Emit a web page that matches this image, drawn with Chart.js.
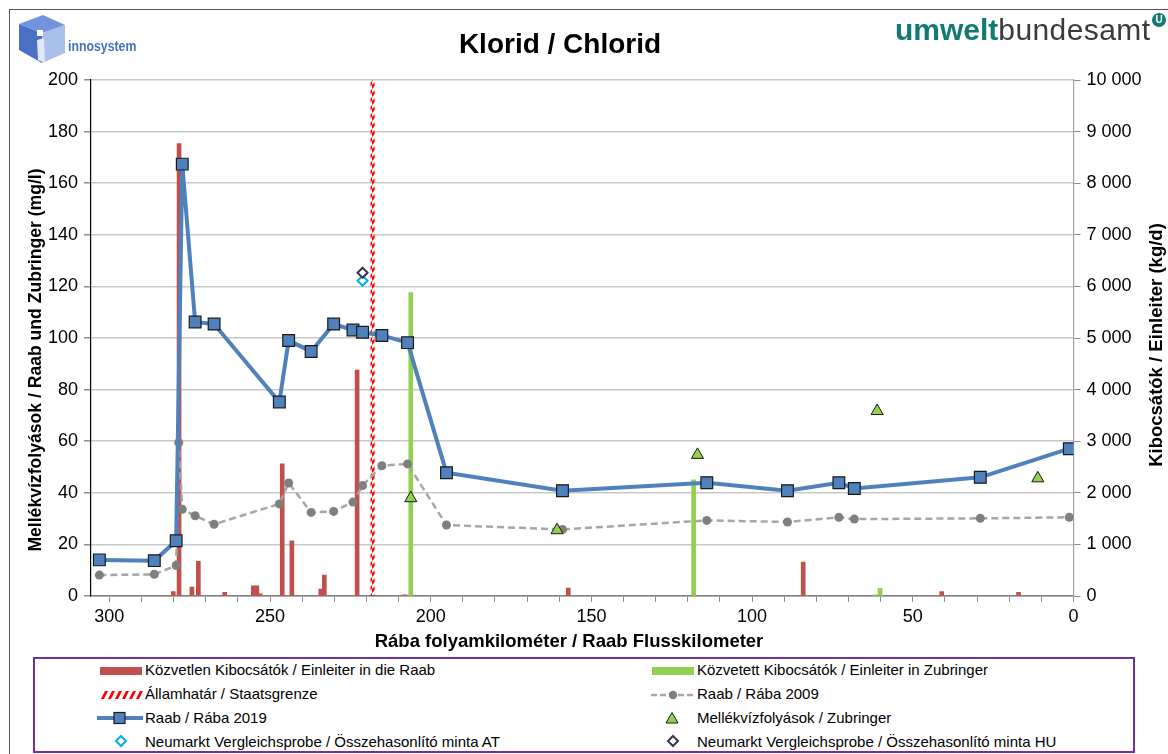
<!DOCTYPE html>
<html><head><meta charset="utf-8">
<script src="https://cdn.jsdelivr.net/npm/chart.js@4.4.1/dist/chart.umd.min.js"></script>
<style>
html,body{margin:0;padding:0;background:#fff;width:1168px;height:754px;overflow:hidden;font-family:"Liberation Sans",Arial,sans-serif;}
#frame{position:absolute;left:9px;top:9px;width:1300px;height:900px;border:1.5px solid #555;box-sizing:border-box;}
#cv{position:absolute;left:0;top:0;}
#title{position:absolute;left:0;width:1120px;top:28px;text-align:center;font-weight:bold;font-size:28px;line-height:32px;color:#000;}
#inno{position:absolute;left:17px;top:13px;}
#innotxt{position:absolute;left:68px;top:37px;font-weight:bold;font-size:15px;color:#4472c4;transform:scaleX(0.82);transform-origin:left top;white-space:nowrap;}
#uba{position:absolute;left:895px;top:12px;font-size:30px;line-height:36px;white-space:nowrap;}
#uba .a{color:#127a72;font-weight:bold;}
#uba .b{color:#3a3a3a;letter-spacing:0.4px;}
#ubaU{position:absolute;left:1152px;top:13px;width:14px;height:14px;border-radius:50%;background:#127a72;color:#fff;font-size:10px;font-weight:bold;line-height:14px;text-align:center;}
#legend{position:absolute;left:33px;top:657px;width:1102px;height:96px;border:2px solid #7030a0;box-sizing:border-box;}
.li{position:absolute;font-size:15px;line-height:18px;color:#000;white-space:nowrap;}
.sym{position:absolute;}
</style>
</head><body>
<div id="frame"></div>
<canvas id="cv" width="1168" height="656"></canvas>
<div id="title">Klorid / Chlorid</div>
<svg id="inno" width="50" height="52" viewBox="0 0 50 52">
  <polygon points="2,11 25,20 25,50 2,37" fill="#4a70c6"/>
  <polygon points="25,20 48,12 48,40 25,50" fill="#a9c1ea"/>
  <polygon points="2,11 26,2 48,12 25,20" fill="#7393dc"/>
  <rect x="20" y="17" width="6" height="6" fill="#ffffff"/>
  <polygon points="20,27 27,25 28,50 21,47" fill="#dfe8f8"/>
</svg>
<div id="innotxt">innosystem</div>
<div id="uba"><span class="a">umwelt</span><span class="b">bundesamt</span></div>
<div id="ubaU">U</div>

<div id="legend">
  <svg class="sym" style="left:64px;top:6px" width="44" height="12"><rect x="1" y="2" width="42" height="8" fill="#c0504d"/></svg>
  <div class="li" style="left:110px;top:2px">Közvetlen Kibocsátók / Einleiter in die Raab</div>
  <svg class="sym" style="left:64px;top:30px" width="44" height="12">
    <g fill="#ff0000"><polygon points="2,10 6,2 9,2 5,10"/><polygon points="9,10 13,2 16,2 12,10"/><polygon points="16,10 20,2 23,2 19,10"/><polygon points="23,10 27,2 30,2 26,10"/><polygon points="30,10 34,2 37,2 33,10"/><polygon points="37,10 41,2 44,2 40,10"/></g>
  </svg>
  <div class="li" style="left:110px;top:26px">Államhatár / Staatsgrenze</div>
  <svg class="sym" style="left:62px;top:51px" width="48" height="16"><line x1="0" y1="8" x2="46" y2="8" stroke="#4f81bd" stroke-width="4"/><rect x="17" y="2.5" width="11" height="11" fill="#4f81bd" stroke="#1f1f1f" stroke-width="1.2"/></svg>
  <div class="li" style="left:110px;top:50px">Raab / Rába 2019</div>
  <svg class="sym" style="left:79px;top:75px" width="14" height="14"><polygon points="7,2 12,7 7,12 2,7" fill="#fff" stroke="#00b0f0" stroke-width="2"/></svg>
  <div class="li" style="left:110px;top:74px">Neumarkt Vergleichsprobe / Összehasonlító minta AT</div>

  <svg class="sym" style="left:616px;top:6px" width="44" height="12"><rect x="1" y="2" width="42" height="8" fill="#92d050"/></svg>
  <div class="li" style="left:662px;top:2px">Közvetett Kibocsátók / Einleiter in Zubringer</div>
  <svg class="sym" style="left:616px;top:29px" width="46" height="14"><line x1="0" y1="7" x2="44" y2="7" stroke="#a6a6a6" stroke-width="2.5" stroke-dasharray="6,3"/><circle cx="22" cy="7" r="4.2" fill="#7f7f7f"/></svg>
  <div class="li" style="left:662px;top:26px">Raab / Rába 2009</div>
  <svg class="sym" style="left:629px;top:51px" width="16" height="16"><polygon points="8,2.5 14,13 2,13" fill="#92d050" stroke="#1f1f1f" stroke-width="1"/></svg>
  <div class="li" style="left:662px;top:50px">Mellékvízfolyások / Zubringer</div>
  <svg class="sym" style="left:631px;top:75px" width="14" height="14"><polygon points="7,2 12,7 7,12 2,7" fill="#fff" stroke="#403152" stroke-width="2"/></svg>
  <div class="li" style="left:662px;top:74px">Neumarkt Vergleichsprobe / Összehasonlító minta HU</div>
</div>

<script>
// ---- data (river km, values) ----
const km2019 = [303.1, 286.0, 279.2, 277.3, 273.3, 267.4, 247.1, 244.2, 237.2, 230.2, 224.2, 221.2, 215.2, 207.2, 195.1, 159.0, 114.1, 89.0, 73.0, 68.2, 29.0, 1.3];
const raab2019 = [14.0, 13.7, 21.4, 167.4, 106.2, 105.4, 75.2, 99.0, 94.8, 105.4, 103.1, 102.2, 101.0, 98.2, 47.8, 40.8, 43.9, 40.8, 43.9, 41.7, 46.0, 57.1];

const km2009 = [303.1, 286.0, 279.2, 278.4, 277.3, 273.3, 267.4, 247.1, 244.2, 237.2, 230.2, 224.2, 221.2, 215.2, 207.2, 195.1, 159.0, 114.1, 89.0, 73.0, 68.2, 29.0, 1.3];
const raab2009 = [8.1, 8.4, 11.8, 59.4, 33.6, 31.1, 27.8, 35.7, 43.8, 32.4, 32.8, 36.4, 42.8, 50.5, 51.2, 27.5, 25.8, 29.3, 28.7, 30.5, 29.8, 30.1, 30.5];

const tribKm = [206.2, 160.7, 117.0, 61.1, 11.1];
const tribVal = [37.9, 25.5, 54.7, 71.7, 45.6];

const directKm = [280.1, 278.3, 274.3, 272.3, 264.1, 255.2, 254.1, 253.1, 246.2, 243.2, 234.2, 233.1, 222.9, 208.1, 157.2, 84.1, 41.0, 17.1];
const directLoad = [85, 8770, 175, 670, 70, 195, 195, 40, 2560, 1070, 135, 405, 4380, 25, 155, 655, 85, 70];

const indirectKm = [206.2, 118.2, 61.8, 60.2];
const indirectLoad = [5880, 2250, 25, 150];

const atKm = [221.2], atVal = [122.2];
const huKm = [221.2], huVal = [125.3];
const borderKm = 218.1;

const xLabels = [0, 50, 100, 150, 200, 250, 300];
const leftTicks = [0, 20, 40, 60, 80, 100, 120, 140, 160, 180, 200];

const titleX = 'Rába folyamkilométer / Raab Flusskilometer';
const titleY = 'Mellékvízfolyások / Raab und Zubringer (mg/l)';
const titleY2 = 'Kibocsátók / Einleiter (kg/d)';

const pts = (xs, ys) => xs.map((x, i) => ({x: x, y: ys[i]}));

function stripePattern() {
  const c = document.createElement('canvas'); c.width = 4; c.height = 8;
  const g = c.getContext('2d');
  g.fillStyle = '#ff0000';
  g.beginPath(); g.moveTo(0,5); g.lineTo(4,1); g.lineTo(4,5); g.lineTo(0,9); g.closePath(); g.fill();
  g.beginPath(); g.moveTo(0,-3); g.lineTo(4,-7); g.lineTo(4,-3); g.lineTo(0,1); g.closePath(); g.fill();
  return document.getElementById('cv').getContext('2d').createPattern(c, 'repeat');
}

const FONT = '"Liberation Sans", Arial, sans-serif';
const fmt = v => String(v).replace(/\B(?=(\d{3})+(?!\d))/g, ' ');

// axis titles drawn in the Excel way (both vertical titles read bottom-to-top)
const axisTitles = {
  id: 'axisTitles',
  afterDraw(chart) {
    const ctx = chart.ctx;
    ctx.save();
    ctx.fillStyle = '#000';
    ctx.textAlign = 'center';
    ctx.textBaseline = 'middle';
    ctx.font = 'bold 18.5px ' + FONT;
    ctx.fillText(titleX, 569, 642);
    ctx.font = 'bold 17.6px ' + FONT;
    ctx.translate(36, 360); ctx.rotate(-Math.PI / 2); ctx.fillText(titleY, 0, 0);
    ctx.restore();
    ctx.save();
    ctx.fillStyle = '#000';
    ctx.textAlign = 'center';
    ctx.textBaseline = 'middle';
    ctx.font = 'bold 18.5px ' + FONT;
    ctx.translate(1157, 345); ctx.rotate(-Math.PI / 2); ctx.fillText(titleY2, 0, 0);
    ctx.restore();
  }
};

new Chart(document.getElementById('cv'), {
  type: 'scatter',
  plugins: [axisTitles],
  data: {
    datasets: [
      {type: 'bar', label: 'Közvetlen Kibocsátók / Einleiter in die Raab', data: pts(directKm, directLoad), yAxisID: 'y2', backgroundColor: '#c0504d', barThickness: 4, grouped: false, order: 10},
      {type: 'bar', label: 'Közvetett Kibocsátók / Einleiter in Zubringer', data: pts(indirectKm, indirectLoad), yAxisID: 'y2', backgroundColor: '#92d050', barThickness: 4, grouped: false, order: 9},
      {type: 'line', label: 'Államhatár / Staatsgrenze', data: [{x: borderKm, y: 0}, {x: borderKm, y: 200}], yAxisID: 'y', borderColor: stripePattern(), borderWidth: 4, pointRadius: 0, fill: false, order: 8},
      {type: 'line', label: 'Raab / Rába 2009', data: pts(km2009, raab2009), yAxisID: 'y', borderColor: '#a6a6a6', borderWidth: 2.5, borderDash: [7, 4], pointStyle: 'circle', pointRadius: 4.5, pointBackgroundColor: '#7f7f7f', pointBorderWidth: 0, tension: 0, order: 7},
      {type: 'line', label: 'Raab / Rába 2019', data: pts(km2019, raab2019), yAxisID: 'y', borderColor: '#4f81bd', borderWidth: 4, pointStyle: 'rect', pointRadius: 8.3, pointBackgroundColor: '#4f81bd', pointBorderColor: '#1a1a1a', pointBorderWidth: 1.2, tension: 0, order: 6},
      {type: 'scatter', label: 'Mellékvízfolyások / Zubringer', data: pts(tribKm, tribVal), yAxisID: 'y', pointStyle: 'triangle', pointRadius: 7, pointBackgroundColor: '#92d050', pointBorderColor: '#1a1a1a', pointBorderWidth: 1, order: 5},
      {type: 'scatter', label: 'Neumarkt Vergleichsprobe / Összehasonlító minta AT', data: pts(atKm, atVal), yAxisID: 'y', pointStyle: 'rectRot', pointRadius: 5, pointBackgroundColor: '#ffffff', pointBorderColor: '#00b0f0', pointBorderWidth: 2, order: 4},
      {type: 'scatter', label: 'Neumarkt Vergleichsprobe / Összehasonlító minta HU', data: pts(huKm, huVal), yAxisID: 'y', pointStyle: 'rectRot', pointRadius: 5, pointBackgroundColor: '#ffffff', pointBorderColor: '#403152', pointBorderWidth: 2, order: 3}
    ]
  },
  options: {
    responsive: false,
    animation: false,
    devicePixelRatio: 1,
    layout: {padding: {top: 80, left: 0, right: 0, bottom: 0}},
    plugins: {legend: {display: false}, tooltip: {enabled: false}},
    scales: {
      x: {
        type: 'linear', position: 'bottom', reverse: true, min: 0, max: 305.7, offset: false,
        afterBuildTicks: s => { const t = []; for (let v = 0; v <= 300; v += 10) t.push({value: v}); s.ticks = t; },
        afterFit: s => { s.height = 60; },
        ticks: {autoSkip: false, maxRotation: 0, padding: 4, color: '#000', font: {family: FONT, size: 18},
                callback: v => xLabels.includes(v) ? String(v) : ''},
        grid: {display: true, drawOnChartArea: false, drawTicks: true, tickLength: 6, color: '#8c8c8c', offset: false},
        border: {display: true, color: '#7f7f7f', width: 1.5},
        title: {display: false}
      },
      y: {
        type: 'linear', position: 'left', min: 0, max: 200,
        afterBuildTicks: s => { s.ticks = leftTicks.map(v => ({value: v})); },
        afterFit: s => { s.width = 91; },
        ticks: {padding: 6, color: '#000', font: {family: FONT, size: 18}},
        grid: {color: '#c8c8c8', lineWidth: 1.5, tickLength: 7, tickColor: '#8c8c8c'},
        border: {display: true, color: '#000', width: 1.2},
        title: {display: false}
      },
      y2: {
        type: 'linear', position: 'right', min: 0, max: 10000,
        afterBuildTicks: s => { const t = []; for (let v = 0; v <= 10000; v += 1000) t.push({value: v}); s.ticks = t; },
        afterFit: s => { s.width = 94.5; },
        ticks: {padding: 6, color: '#000', font: {family: FONT, size: 18}, callback: v => fmt(v)},
        grid: {drawOnChartArea: false, tickLength: 7, color: '#8c8c8c'},
        border: {display: true, color: '#a0a0a0', width: 1.2},
        title: {display: false}
      }
    }
  }
});
</script>
</body></html>
